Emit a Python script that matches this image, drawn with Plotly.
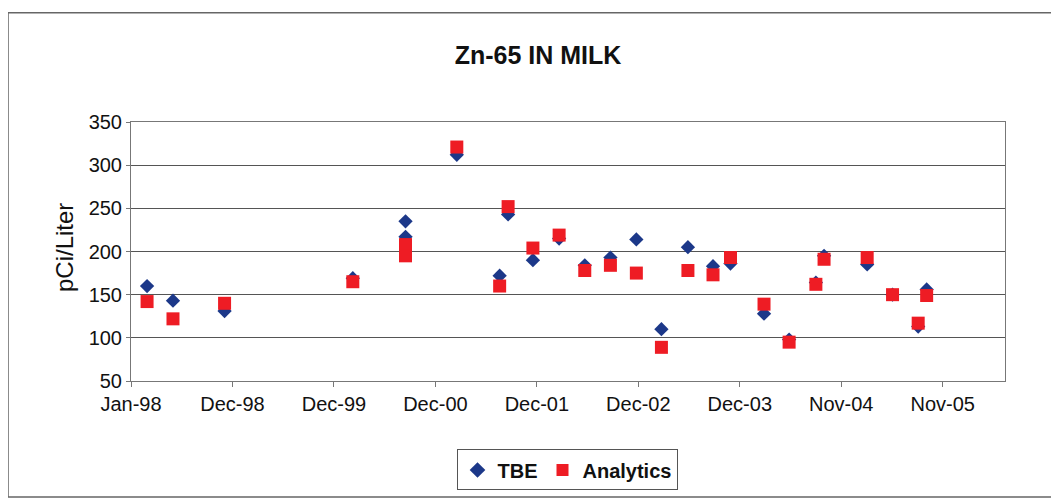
import pandas as pd
import plotly.graph_objects as go

# ---- data ----
sample_dates = ["1998-02-27", "1998-05-30", "1998-11-29", "2000-02-27", "2000-09-01", "2000-09-01",
                "2001-03-02", "2001-08-01", "2001-08-31", "2001-11-27", "2002-02-28", "2002-05-30",
                "2002-08-29", "2002-11-29", "2003-02-26", "2003-05-31", "2003-08-28", "2003-10-29",
                "2004-02-25", "2004-05-24", "2004-08-27", "2004-09-25", "2005-02-25", "2005-05-26",
                "2005-08-25", "2005-09-24"]
tbe = [160, 143, 131, 169, 235, 217, 312, 172, 243, 190, 215, 184, 193, 214, 110, 205, 183, 186,
       128, 98, 164, 195, 185, 150, 113, 156]
analytics = [142, 122, 140, 165, 208, 195, 321, 160, 252, 204, 219, 178, 184, 175, 89, 178, 173, 193,
             139, 95, 162, 191, 193, 150, 117, 149]

x_start = "1998-01-01"
x_end = "2006-06-29"
tick_dates = pd.date_range(x_start, periods=9, freq="360D")
tick_labels = [d.strftime("%b-%y") for d in tick_dates]
y_ticks = [50, 100, 150, 200, 250, 300, 350]

FONT = "Liberation Sans, Arial, sans-serif"
OFF = 8  # default page body margin
W, H = 1059 - OFF, 502 - OFF
L, R, T, B = 131 - OFF, 1005 - OFF, 122 - OFF, 383 - OFF

fig = go.Figure()
fig.add_trace(go.Scatter(
    x=sample_dates, y=tbe, mode="markers", name="<b>TBE</b>",
    marker=dict(symbol="diamond", size=11, color="#1c3889", line=dict(width=0)),
))
fig.add_trace(go.Scatter(
    x=sample_dates, y=analytics, mode="markers", name="<b>Analytics</b>",
    marker=dict(symbol="square", size=13, color="#ee1c24", line=dict(width=0)),
))

def px_x(p):
    return (p - OFF - L) / (R - L)

def px_y(p):
    return (B - (p - OFF)) / (B - T)

fig.update_layout(
    width=W, height=H,
    margin=dict(l=L, r=W - R, t=T, b=H - B),
    paper_bgcolor="white", plot_bgcolor="white",
    font=dict(family=FONT, color="#111111"),
    title=dict(text="<b>Zn-65 IN MILK</b>", font=dict(size=25, family=FONT, color="#111111"),
               x=px_x(538), xanchor="center", xref="paper",
               y=1 - (55 - OFF) / H, yref="container", yanchor="middle"),
    showlegend=True,
    legend=dict(orientation="h", x=px_x(567), xanchor="center", y=px_y(452), yanchor="top",
                font=dict(size=20, family=FONT, color="#111111"),
                bordercolor="#555555", borderwidth=1, bgcolor="white",
                itemsizing="constant", itemwidth=30, tracegroupgap=0),
    xaxis=dict(type="date", range=[x_start, x_end], tickvals=list(tick_dates), ticktext=tick_labels,
               showgrid=False, zeroline=False, showline=True, linecolor="#777777", linewidth=1,
               mirror=True, ticks="outside", ticklen=5, tickcolor="#777777",
               tickfont=dict(size=20, family=FONT, color="#111111")),
    yaxis=dict(range=[50, 350], tickvals=y_ticks, showgrid=True, gridcolor="#555555", gridwidth=1,
               zeroline=False, showline=True, linecolor="#777777", linewidth=1, mirror=True,
               ticks="outside", ticklen=4, tickcolor="#777777",
               tickfont=dict(size=20, family=FONT, color="#111111")),
    annotations=[dict(text="pCi/Liter", xref="paper", yref="paper", x=px_x(64), y=px_y(249),
                      xanchor="center", yanchor="middle", textangle=-90, showarrow=False,
                      font=dict(size=24, family=FONT, color="#111111"))],
    shapes=[dict(type="rect", xref="paper", yref="paper", x0=px_x(8), x1=px_x(1066),
                 y0=px_y(500), y1=px_y(12), line=dict(color="#666666", width=1.5),
                 fillcolor="rgba(0,0,0,0)", layer="below")],
)

fig.write_html("out.html")
